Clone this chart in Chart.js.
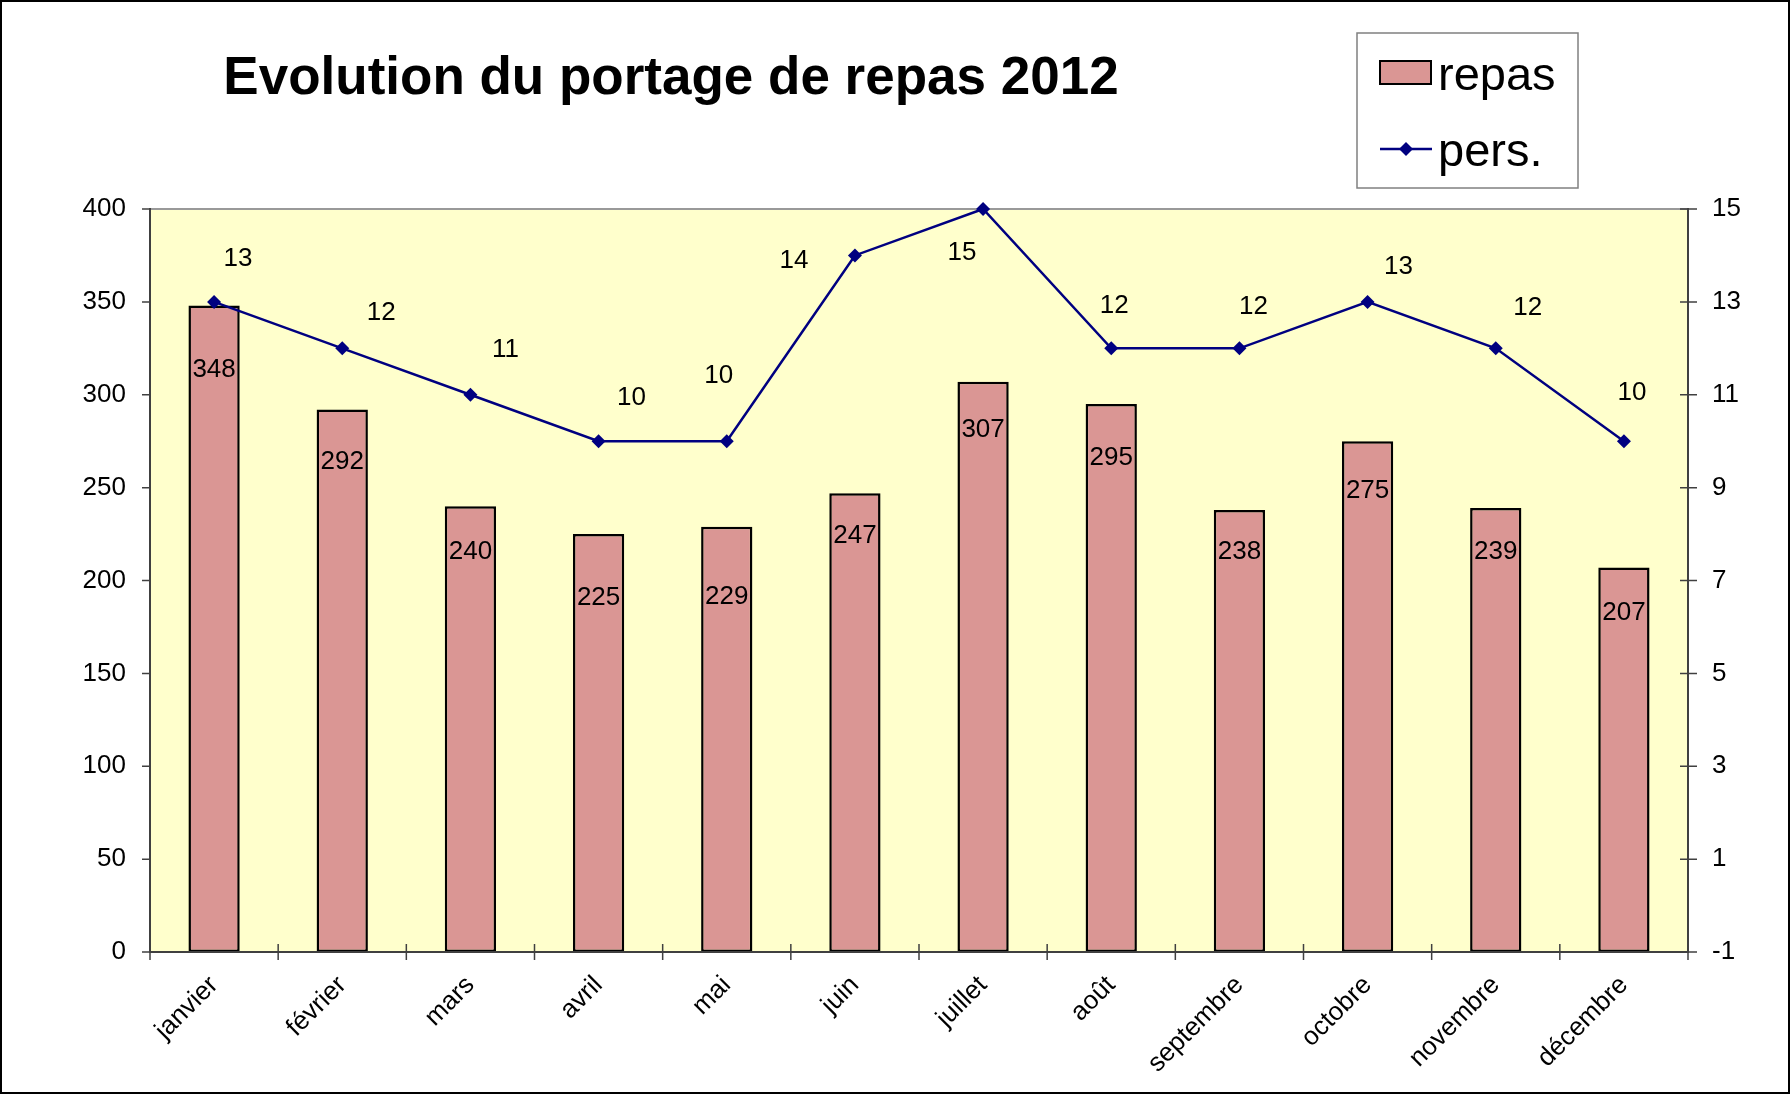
<!DOCTYPE html>
<html>
<head>
<meta charset="utf-8">
<script src="https://cdn.jsdelivr.net/npm/chart.js@4.4.1/dist/chart.umd.min.js"></script>
<style>
  html, body { margin: 0; padding: 0; background: #fff; }
  #wrap { width: 1792px; height: 1095px; position: relative; }
  canvas { display: block; }
</style>
</head>
<body>
<div id="wrap"><canvas id="c" width="1792" height="1095"></canvas></div>
<script>
// ---- data ----
const titleText = 'Evolution du portage de repas 2012';
const months = ['janvier', 'février', 'mars', 'avril', 'mai', 'juin', 'juillet', 'août', 'septembre', 'octobre', 'novembre', 'décembre'];
const repas = [348, 292, 240, 225, 229, 247, 307, 295, 238, 275, 239, 207];
const pers = [13, 12, 11, 10, 10, 14, 15, 12, 12, 13, 12, 10];
const leftTicks = [0, 50, 100, 150, 200, 250, 300, 350, 400];
const rightTicks = [-1, 1, 3, 5, 7, 9, 11, 13, 15];

// ---- style / layout ----
const FONT = '"Liberation Sans", Arial, Helvetica, sans-serif';
const BAR_FILL = 'rgb(218,150,148)';
const LINE_COL = '#000080';
const PLOT_BG = '#FFFFCC';
const AXIS_COL = '#404040';
// label nudges (pixels relative to the computed mark position)
const barLabelDy = [64, 52, 46, 64, 70, 43, 48, 54, 42, 50, 44, 45];
const lineLabelNudge = [[24,-43],[39,-35],[35,-45],[33,-43],[-8,-65],[-61,5],[-21,44],[3,-42],[14,-41],[31,-35],[32,-40],[8,-48]];

const decorPlugin = {
  id: 'decor',
  beforeDraw(chart) {
    const ctx = chart.ctx, a = chart.chartArea;
    ctx.save();
    ctx.fillStyle = '#fff';
    ctx.fillRect(0, 0, chart.width, chart.height);
    ctx.fillStyle = PLOT_BG;
    ctx.fillRect(a.left, a.top, a.right - a.left, a.bottom - a.top);
    ctx.restore();
  },
  beforeDatasetsDraw(chart) {
    const ctx = chart.ctx, a = chart.chartArea;
    ctx.save();
    ctx.strokeStyle = '#999999';
    ctx.lineWidth = 2;
    ctx.beginPath(); ctx.moveTo(a.left, a.top); ctx.lineTo(a.right, a.top); ctx.stroke();
    ctx.restore();
  },
  afterDatasetsDraw(chart) {
    const ctx = chart.ctx, a = chart.chartArea;
    const ys = chart.scales.y, yr = chart.scales.y1, xs = chart.scales.x;
    ctx.save();
    ctx.strokeStyle = AXIS_COL;
    ctx.lineWidth = 2;
    ctx.beginPath();
    ctx.moveTo(a.left, a.top - 1); ctx.lineTo(a.left, a.bottom + 1);
    ctx.moveTo(a.right, a.top - 1); ctx.lineTo(a.right, a.bottom + 1);
    ctx.moveTo(a.left, a.bottom); ctx.lineTo(a.right, a.bottom);
    ctx.stroke();
    ctx.lineWidth = 1.5;
    ctx.beginPath();
    leftTicks.forEach(v => { const y = ys.getPixelForValue(v); ctx.moveTo(a.left - 8, y); ctx.lineTo(a.left, y); });
    rightTicks.forEach(v => { const y = yr.getPixelForValue(v); ctx.moveTo(a.right - 8, y); ctx.lineTo(a.right + 9, y); });
    const n = months.length, w = (a.right - a.left) / n;
    for (let i = 0; i <= n; i++) {
      const x = (i < n ? xs.getPixelForValue(i) : xs.getPixelForValue(n - 1)) + (i < n ? -w / 2 : w / 2);
      ctx.moveTo(x, a.bottom - 8); ctx.lineTo(x, a.bottom + 8);
    }
    ctx.stroke();
    ctx.restore();
  },
  afterDraw(chart) {
    const ctx = chart.ctx;
    ctx.save();
    ctx.fillStyle = '#000';
    ctx.font = '26px ' + FONT;
    ctx.textAlign = 'center';
    ctx.textBaseline = 'middle';
    chart.getDatasetMeta(0).data.forEach((el, i) => {
      ctx.fillText(String(repas[i]), el.x, el.y + barLabelDy[i]);
    });
    chart.getDatasetMeta(1).data.forEach((el, i) => {
      const nd = lineLabelNudge[i];
      ctx.fillText(String(pers[i]), el.x + nd[0], el.y + nd[1]);
    });
    // title
    ctx.font = 'bold 53px ' + FONT;
    ctx.textAlign = 'center';
    ctx.textBaseline = 'alphabetic';
    ctx.fillText(titleText, 671, 94);
    // legend box
    ctx.strokeStyle = '#808080';
    ctx.lineWidth = 1.5;
    ctx.strokeRect(1357, 33, 221, 155);
    ctx.fillStyle = BAR_FILL;
    ctx.fillRect(1380, 61, 51, 23);
    ctx.strokeStyle = '#000';
    ctx.lineWidth = 2;
    ctx.strokeRect(1380, 61, 51, 23);
    ctx.strokeStyle = LINE_COL;
    ctx.lineWidth = 2.5;
    ctx.beginPath(); ctx.moveTo(1380, 149); ctx.lineTo(1432, 149); ctx.stroke();
    ctx.fillStyle = LINE_COL;
    ctx.beginPath();
    ctx.moveTo(1406, 142); ctx.lineTo(1413, 149); ctx.lineTo(1406, 156); ctx.lineTo(1399, 149); ctx.closePath();
    ctx.fill();
    ctx.fillStyle = '#000';
    ctx.font = '47px ' + FONT;
    ctx.textAlign = 'left';
    ctx.fillText(chart.data.datasets[0].label, 1438, 90);
    ctx.fillText(chart.data.datasets[1].label, 1438, 166);
    // outer border
    ctx.strokeStyle = '#000';
    ctx.lineWidth = 2;
    ctx.strokeRect(1, 1, 1788, 1092);
    ctx.restore();
  }
};

new Chart(document.getElementById('c'), {
  type: 'bar',
  data: {
    labels: months,
    datasets: [
      {
        type: 'bar', label: 'repas', data: repas, yAxisID: 'y', order: 2,
        backgroundColor: BAR_FILL, borderColor: '#000', borderWidth: 2.5, borderSkipped: false,
        barPercentage: 0.4, categoryPercentage: 1.0
      },
      {
        type: 'line', label: 'pers.', data: pers, yAxisID: 'y1', order: 1,
        borderColor: LINE_COL, borderWidth: 2.5, tension: 0,
        pointStyle: 'rectRot', pointRadius: 7, pointHoverRadius: 7,
        pointBackgroundColor: LINE_COL, pointBorderColor: LINE_COL, pointBorderWidth: 0,
        clip: false
      }
    ]
  },
  options: {
    responsive: false,
    animation: false,
    events: [],
    layout: { padding: { top: 209, left: 0, right: 0, bottom: 0 } },
    plugins: { legend: { display: false }, title: { display: false }, tooltip: { enabled: false } },
    scales: {
      x: {
        offset: true,
        grid: { display: false, drawTicks: false },
        border: { display: false },
        ticks: { color: '#000', font: { family: FONT, size: 26 }, minRotation: 45, maxRotation: 45, padding: 18, autoSkip: false },
        afterFit(s) { s.height = 1095 - 952; }
      },
      y: {
        position: 'left', min: 0, max: 400,
        grid: { display: false, drawTicks: false },
        border: { display: false },
        ticks: { stepSize: 50, color: '#000', font: { family: FONT, size: 26 }, padding: 24 },
        afterFit(s) { s.width = 150; }
      },
      y1: {
        position: 'right', min: -1, max: 15,
        grid: { display: false, drawTicks: false },
        border: { display: false },
        ticks: { stepSize: 2, color: '#000', font: { family: FONT, size: 26 }, padding: 24 },
        afterFit(s) { s.width = 1792 - 1688; }
      }
    }
  },
  plugins: [decorPlugin]
});
</script>
</body>
</html>
